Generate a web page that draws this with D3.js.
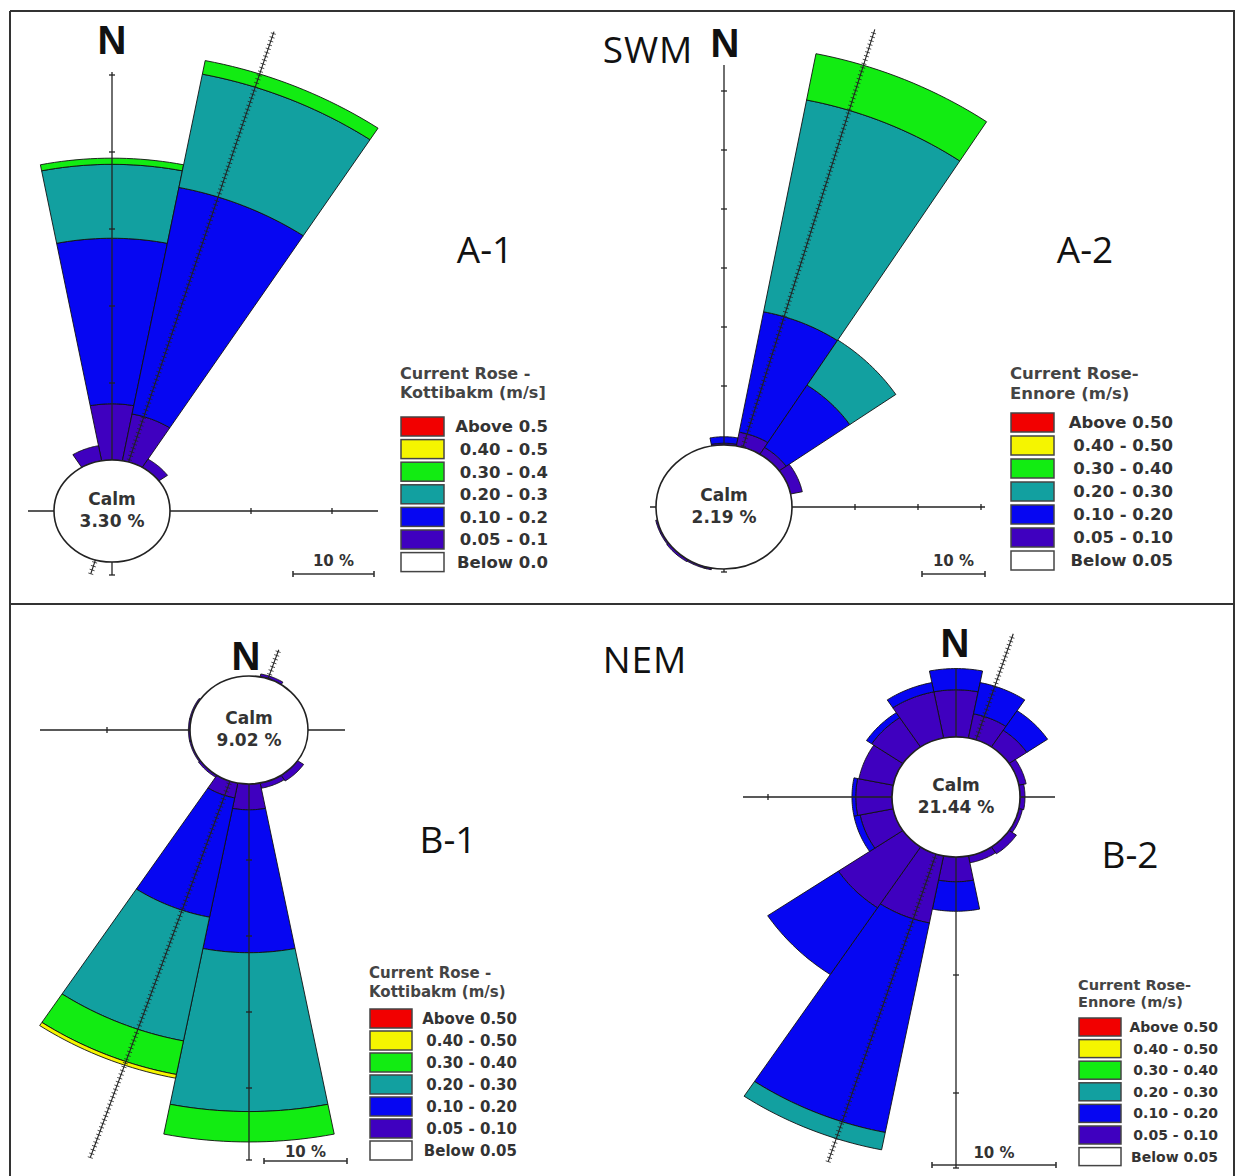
<!DOCTYPE html>
<html>
<head>
<meta charset="utf-8">
<title>Current roses SWM / NEM</title>
<script src="https://cdn.jsdelivr.net/npm/d3@7"></script>
<style>
  body { margin: 0; background: #fff; }
  svg text { font-family: "DejaVu Sans", sans-serif; font-weight: bold; }
</style>
</head>
<body>
<svg id="chart" width="1236" height="1176"></svg>
<script>
// 16 sectors clockwise from north
var directions = ["N","NNE","NE","ENE","E","ESE","SE","SSE","S","SSW","SW","WSW","W","WNW","NW","NNW"];
// speed classes, inner to outer
var speedClasses = ["0.05 - 0.10","0.10 - 0.20","0.20 - 0.30","0.30 - 0.40","0.40 - 0.50","Above 0.50"];
var classColors = ["#3f00bf","#0606f2","#12a0a0","#12ec12","#f5f500","#f20000"];

// frequency in % for each direction, split by speed class (same order as speedClasses)
var swmKottibakm = [
  [7.3, 21.5, 9.6, 0.8, 0, 0],   // N
  [6.2, 30.0, 15.0, 1.8, 0, 0],  // NNE
  [1.3, 0, 0, 0, 0, 0],          // NE
  [0, 0, 0, 0, 0, 0], [0, 0, 0, 0, 0, 0], [0, 0, 0, 0, 0, 0], [0, 0, 0, 0, 0, 0], [0, 0, 0, 0, 0, 0],
  [0, 0, 0, 0, 0, 0], [0, 0, 0, 0, 0, 0], [0, 0, 0, 0, 0, 0], [0, 0, 0, 0, 0, 0], [0, 0, 0, 0, 0, 0],
  [0, 0, 0, 0, 0, 0], [0, 0, 0, 0, 0, 0],
  [2.0, 0, 0, 0, 0, 0]           // NNW
];
var swmEnnore = [
  [0.3, 1.1, 0, 0, 0, 0],        // N
  [2.4, 20.8, 36.6, 8.0, 0, 0],  // NNE
  [1.4, 12.7, 9.2, 0, 0, 0],     // NE
  [2.0, 0, 0, 0, 0, 0],          // ENE
  [0, 0, 0, 0, 0, 0], [0, 0, 0, 0, 0, 0], [0, 0, 0, 0, 0, 0], [0, 0, 0, 0, 0, 0], [0, 0, 0, 0, 0, 0],
  [0.3, 0, 0, 0, 0, 0],          // SSW
  [0.4, 0, 0, 0, 0, 0],          // SW
  [0.3, 0, 0, 0, 0, 0],          // WSW
  [0, 0, 0, 0, 0, 0], [0, 0, 0, 0, 0, 0], [0, 0, 0, 0, 0, 0], [0, 0, 0, 0, 0, 0]
];
var nemKottibakm = [
  [0, 0, 0, 0, 0, 0],            // N
  [0.4, 0, 0, 0, 0, 0],          // NNE
  [0, 0, 0, 0, 0, 0], [0, 0, 0, 0, 0, 0], [0, 0, 0, 0, 0, 0], [0, 0, 0, 0, 0, 0],
  [0.9, 0, 0, 0, 0, 0],          // SE
  [0.7, 0, 0, 0, 0, 0],          // SSE
  [3.4, 18.8, 20.9, 4.0, 0, 0],  // S
  [2.0, 16.0, 16.6, 4.5, 0.5, 0],// SSW
  [0.3, 0, 0, 0, 0, 0],          // SW
  [0.2, 0, 0, 0, 0, 0],          // WSW
  [0.2, 0, 0, 0, 0, 0],          // W
  [0.2, 0, 0, 0, 0, 0],          // WNW
  [0, 0, 0, 0, 0, 0], [0, 0, 0, 0, 0, 0]
];
var nemEnnore = [
  [4.0, 1.8, 0, 0, 0, 0],        // N
  [2.1, 2.7, 0, 0, 0, 0],        // NNE
  [1.7, 2.0, 0, 0, 0, 0],        // NE
  [0.6, 0, 0, 0, 0, 0],          // ENE
  [0.4, 0, 0, 0, 0, 0],          // E
  [0.3, 0, 0, 0, 0, 0],          // ESE
  [0.7, 0, 0, 0, 0, 0],          // SE
  [0.6, 0, 0, 0, 0, 0],          // SSE
  [2.1, 2.5, 0, 0, 0, 0],        // S
  [5.8, 18.1, 1.5, 0, 0, 0],     // SSW
  [6.2, 6.8, 0, 0, 0, 0],        // SW
  [2.7, 0.5, 0, 0, 0, 0],        // WSW
  [2.9, 0.3, 0, 0, 0, 0],        // W
  [2.8, 0, 0, 0, 0, 0],          // WNW
  [3.0, 0.5, 0, 0, 0, 0],        // NW
  [4.0, 0.8, 0, 0, 0, 0]         // NNW
];
var calmLabels = ["3.30 %", "2.19 %", "9.02 %", "21.44 %"];

var legendColors = ["#f20000","#f5f500","#12ec12","#12a0a0","#0606f2","#3f00bf","#ffffff"];
var legendLabelsA1 = ["Above 0.5","0.40 - 0.5","0.30 - 0.4","0.20 - 0.3","0.10 - 0.2","0.05 - 0.1","Below 0.0"];
var legendLabels = ["Above 0.50","0.40 - 0.50","0.30 - 0.40","0.20 - 0.30","0.10 - 0.20","0.05 - 0.10","Below 0.05"];

var svg = d3.select("#chart");
var deg = Math.PI / 180;

// frame
var frame = svg.append("g").attr("stroke", "#333").attr("stroke-width", 2);
frame.append("line").attr("x1", 10).attr("x2", 1235).attr("y1", 11).attr("y2", 11);
frame.append("line").attr("x1", 10).attr("x2", 1235).attr("y1", 604).attr("y2", 604);
frame.append("line").attr("x1", 10).attr("x2", 10).attr("y1", 11).attr("y2", 1176);
frame.append("line").attr("x1", 1234).attr("x2", 1234).attr("y1", 11).attr("y2", 1176);

// k: px per % along the radius, kh: px per % on the horizontal axis / scale bar
var panels = [
  { data: swmKottibakm, calm: calmLabels[0], cx: 112, cy: 511, rx: 58, ry: 51, k: 7.7, kh: 8.1, sx: 1.04,
    vUp: 439, vDown: 64, vTicks: [10, 20, 30, 40, 50], hLeft: 84, hRight: 266, hTicks: [10, 20],
    hatch: { bearing: 18, from: -66, to: 504 }, bar: { x: 293, y: 574, ty: 566 } },
  { data: swmEnnore, calm: calmLabels[1], cx: 724, cy: 507, rx: 68, ry: 62, k: 5.9, kh: 6.3, sx: 1.02,
    vUp: 442, vDown: 65, vTicks: [10, 20, 30, 40, 50, 60], hLeft: 74, hRight: 261, hTicks: [10, 20, 30],
    hLeftStart: 68, hatch: { bearing: 17.2, from: -64, to: 500 }, bar: { x: 922, y: 574, ty: 566 } },
  { data: nemKottibakm, calm: calmLabels[2], cx: 249, cy: 730, rx: 59, ry: 54, k: 7.6, kh: 8.3, sx: 1.06,
    vUp: 0, vDown: 430, vTicks: [-10, -20, -30, -40], hLeft: 209, hRight: 96, hTicks: [-10],
    hatch: { bearing: 19.3, from: -453, to: 85 }, bar: { x: 264, y: 1161, ty: 1157 } },
  { data: nemEnnore, calm: calmLabels[3], cx: 956, cy: 797, rx: 64, ry: 60, k: 11.8, kh: 12.4, sx: 1.06,
    vUp: 128, vDown: 371, vTicks: [-10, -20], hLeft: 213, hRight: 99, hTicks: [-10],
    hatch: { bearing: 18.3, from: -384, to: 172 }, bar: { x: 932, y: 1165, ty: 1158 } }
];

function drawRose(p) {
  var off = d3.scaleLinear().domain([0, 10]).range([0, 10 * p.k]);
  var offH = d3.scaleLinear().domain([0, 10]).range([0, 10 * p.kh]);
  var ex = p.rx / p.sx, ey = p.ry;
  // calm ellipse radius (unscaled units) in direction a
  function base(a) {
    return 1 / Math.sqrt(Math.pow(Math.sin(a) / ex, 2) + Math.pow(Math.cos(a) / ey, 2));
  }
  var radial = d3.lineRadial().curve(d3.curveLinearClosed);
  function sector(dir, inner, outer) {
    var a0 = (dir * 22.5 - 11.25) * deg, a1 = (dir * 22.5 + 11.25) * deg;
    var angs = d3.range(21).map(function(i) { return a0 + (a1 - a0) * i / 20; });
    var pts = angs.map(function(a) { return [a, base(a) + off(outer)]; })
      .concat(angs.slice().reverse().map(function(a) { return [a, base(a) + off(inner)]; }));
    return radial(pts);
  }

  // scale bar (10 %)
  var len = offH(10);
  var sb = svg.append("g").attr("stroke", "#333").attr("stroke-width", 1.6);
  sb.append("line").attr("x1", p.bar.x).attr("x2", p.bar.x + len).attr("y1", p.bar.y).attr("y2", p.bar.y);
  [p.bar.x, p.bar.x + len].forEach(function(x) {
    sb.append("line").attr("x1", x).attr("x2", x).attr("y1", p.bar.y - 3).attr("y2", p.bar.y + 3);
  });
  svg.append("text").attr("x", p.bar.x + len / 2).attr("y", p.bar.ty)
    .attr("text-anchor", "middle").attr("font-size", 15).attr("fill", "#333").text("10 %");

  var g = svg.append("g").attr("transform", "translate(" + p.cx + "," + p.cy + ")");
  var u = g.append("g").attr("transform", "scale(" + p.sx + ",1)");

  var segs = [];
  p.data.forEach(function(vals, i) {
    var cum = d3.cumsum(vals);
    vals.forEach(function(v, j) {
      if (v > 0) segs.push({ dir: i, cls: j, inner: cum[j] - v, outer: cum[j] });
    });
  });
  u.selectAll("path.bar").data(segs).join("path")
    .attr("class", "bar")
    .attr("d", function(d) { return sector(d.dir, d.inner, d.outer); })
    .attr("fill", function(d) { return classColors[d.cls]; })
    .attr("stroke", "#111").attr("stroke-width", 0.9)
    .attr("vector-effect", "non-scaling-stroke");

  // axes
  var ax = g.append("g").attr("stroke", "#222").attr("stroke-width", 1.3);
  ax.append("line").attr("x1", 0).attr("x2", 0).attr("y1", -p.vUp).attr("y2", p.vDown);
  ax.append("line").attr("x1", -p.hLeft).attr("x2", p.hRight).attr("y1", 0).attr("y2", 0);
  p.vTicks.forEach(function(t) {
    var y = t > 0 ? -(p.ry + off(t)) : p.ry + off(-t);
    ax.append("line").attr("x1", -3).attr("x2", 3).attr("y1", y).attr("y2", y);
  });
  p.hTicks.forEach(function(t) {
    var x = t > 0 ? p.rx + offH(t) : -(p.rx + offH(-t));
    ax.append("line").attr("x1", x).attr("x2", x).attr("y1", -3).attr("y2", 3);
  });
  ax.append("line").attr("x1", -3).attr("x2", 3).attr("y1", p.vDown).attr("y2", p.vDown);

  // hatched resultant line
  var b = p.hatch.bearing * deg, dx = Math.sin(b), dy = -Math.cos(b);
  var hl = u.append("g").attr("stroke", "#222").attr("stroke-width", 1.1);
  hl.append("line").attr("vector-effect", "non-scaling-stroke")
    .attr("x1", dx * p.hatch.from).attr("y1", dy * p.hatch.from)
    .attr("x2", dx * p.hatch.to).attr("y2", dy * p.hatch.to);
  d3.range(p.hatch.from, p.hatch.to, 4).forEach(function(t) {
    if (Math.abs(t) < p.ry) return;
    hl.append("line").attr("vector-effect", "non-scaling-stroke").attr("stroke-width", 0.8)
      .attr("x1", dx * t - dy * 2.5).attr("y1", dy * t + dx * 2.5)
      .attr("x2", dx * t + dy * 2.5).attr("y2", dy * t - dx * 2.5);
  });

  // calm circle
  g.append("ellipse").attr("rx", p.rx).attr("ry", p.ry)
    .attr("fill", "#fff").attr("stroke", "#222").attr("stroke-width", 1.6);
  g.append("text").attr("y", -6).attr("text-anchor", "middle")
    .attr("font-size", 17).attr("fill", "#333").text("Calm");
  g.append("text").attr("y", 16).attr("text-anchor", "middle")
    .attr("font-size", 17).attr("fill", "#333").text(p.calm);
}

panels.forEach(drawRose);

// north labels
[[112, 54], [725, 57], [246, 670], [955, 657]].forEach(function(n) {
  svg.append("text").attr("x", n[0]).attr("y", n[1]).attr("text-anchor", "middle")
    .style("font-family", "'Liberation Sans', Arial, sans-serif")
    .attr("font-size", 40).attr("fill", "#111").text("N");
});

// panel titles
[["SWM", 648, 63], ["NEM", 645, 673], ["A-1", 485, 263], ["A-2", 1085, 263], ["B-1", 448, 853], ["B-2", 1130, 868]]
  .forEach(function(t) {
    svg.append("text").attr("x", t[1]).attr("y", t[2]).attr("text-anchor", "middle")
      .style("font-family", "'Open Sans', sans-serif").style("font-weight", "normal")
      .attr("font-size", 37)
      .attr("letter-spacing", t[0].indexOf("-") < 0 ? 1 : 0)
      .attr("fill", "#111").text(t[0]);
  });

var legends = [
  { title: ["Current Rose -", "Kottibakm (m/s]"], labels: legendLabelsA1, x: 400, titleY: [379, 398],
    top: 417, step: 22.6, w: 43, h: 19, right: 548, fs: 16.5, tfs: 16 },
  { title: ["Current Rose-", "Ennore (m/s)"], labels: legendLabels, x: 1010, titleY: [379, 399],
    top: 413, step: 23, w: 43, h: 19, right: 1173, fs: 16.5, tfs: 16.5 },
  { title: ["Current Rose -", "Kottibakm (m/s)"], labels: legendLabels, x: 369, titleY: [978, 997],
    top: 1009, step: 22, w: 42, h: 19, right: 517, fs: 15, tfs: 15 },
  { title: ["Current Rose-", "Ennore (m/s)"], labels: legendLabels, x: 1078, titleY: [990, 1007],
    top: 1018, step: 21.6, w: 42, h: 18, right: 1218, fs: 14, tfs: 14.5 }
];

legends.forEach(function(L) {
  var g = svg.append("g");
  L.title.forEach(function(t, i) {
    g.append("text").attr("x", L.x).attr("y", L.titleY[i]).attr("font-size", L.tfs)
      .attr("fill", "#444").text(t);
  });
  var y = d3.scaleBand().domain(L.labels).range([L.top, L.top + L.step * L.labels.length]);
  g.selectAll("rect").data(L.labels).join("rect")
    .attr("x", L.x + 1).attr("y", function(d) { return y(d); })
    .attr("width", L.w).attr("height", L.h)
    .attr("fill", function(d, i) { return legendColors[i]; })
    .attr("stroke", "#444").attr("stroke-width", 1.5);
  g.selectAll("text.lab").data(L.labels).join("text")
    .attr("class", "lab")
    .attr("x", L.right).attr("y", function(d) { return y(d) + L.h / 2 + L.fs * 0.36; })
    .attr("text-anchor", "end").attr("font-size", L.fs)
    .attr("fill", "#333").text(function(d) { return d; });
});
</script>
</body>
</html>
